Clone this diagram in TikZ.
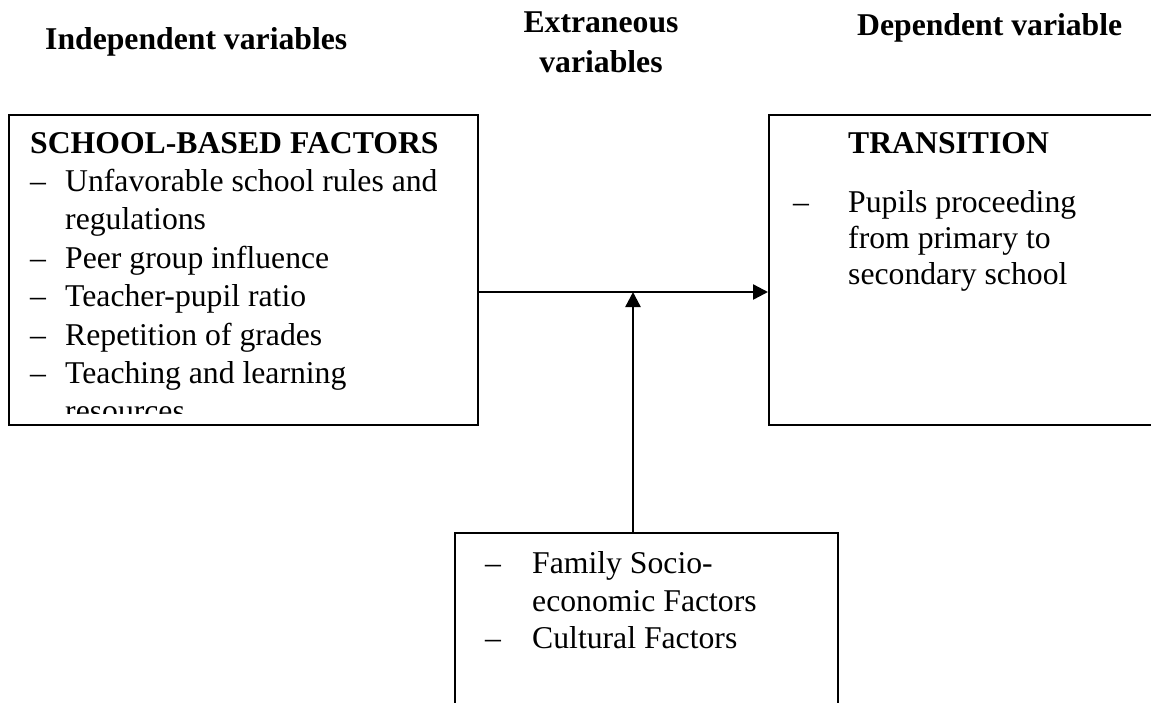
\documentclass[tikz,border=0pt]{standalone}
\usepackage{fontspec}
\setmainfont{Liberation Serif}
\usetikzlibrary{arrows.meta}
\tikzset{
  txt/.style={anchor=base west, inner sep=0pt, font=\fontsize{31.7}{38}\selectfont},
  hdr/.style={inner sep=0pt, font=\fontsize{31.7}{38}\selectfont\bfseries},
  boxstyle/.style={draw, line width=2.2pt, anchor=north west, inner sep=0pt},
  arr/.style={line width=2.4pt, -{Triangle[length=15pt, width=15pt]}}
}
\begin{document}
\begin{tikzpicture}[x=1pt, y=-1pt]
\useasboundingbox (0,0) rectangle (1151,702);
\clip (0,0) rectangle (1151,702);
% headers
\node[hdr, anchor=base west] (h1) at (45,49) {Independent variables};
\node[hdr, anchor=base] (h2a) at (601,32) {Extraneous};
\node[hdr, anchor=base] (h2b) at (601,72) {variables};
\node[hdr, anchor=base west] (h3) at (857,35) {Dependent variable};
% boxes
\node[boxstyle, minimum width=469pt, minimum height=310pt] (ind) at (8,114) {};
\node[boxstyle, minimum width=420pt, minimum height=310pt] (dep) at (768,114) {};
\node[boxstyle, line width=1.6pt, minimum width=383pt, minimum height=220pt] (ext) at (454,532) {};
% left box text
\node[txt, font=\fontsize{31.7}{38}\selectfont\bfseries] (t0) at (30,153) {SCHOOL-BASED FACTORS};
\node[txt] (d1) at (30,191) {–};
\node[txt] (t1) at (65,191) {Unfavorable school rules and};
\node[txt] (t1b) at (65,229) {regulations};
\node[txt] (d2) at (30,268) {–};
\node[txt] (t2) at (65,268) {Peer group influence};
\node[txt] (d3) at (30,306) {–};
\node[txt] (t3) at (65,306) {Teacher-pupil ratio};
\node[txt] (d4) at (30,345) {–};
\node[txt] (t4) at (65,345) {Repetition of grades};
\node[txt] (d5) at (30,383) {–};
\node[txt] (t5) at (65,383) {Teaching and learning};
\begin{scope}
  \clip (10,300) rectangle (475,413);
  \node[txt] (t5b) at (65,421) {resources};
\end{scope}
% right box text
\node[txt, font=\fontsize{31.7}{38}\selectfont\bfseries] (r0) at (848,153) {TRANSITION};
\node[txt] (rd1) at (793,212) {–};
\node[txt] (r1) at (848,212) {Pupils proceeding};
\node[txt] (r1b) at (848,248) {from primary to};
\node[txt] (r1c) at (848,284) {secondary school};
% bottom box text
\node[txt] (bd1) at (485,573) {–};
\node[txt] (b1) at (532,573) {Family Socio-};
\node[txt] (b1b) at (532,611) {economic Factors};
\node[txt] (bd2) at (485,648) {–};
\node[txt] (b2) at (532,648) {Cultural Factors};
% connectors
\coordinate (m) at (633,292);
\draw[arr] (ind.east |- m) -- (dep.west |- m);
\draw[arr] (ext.north -| m) -- (m);
\end{tikzpicture}
\end{document}
